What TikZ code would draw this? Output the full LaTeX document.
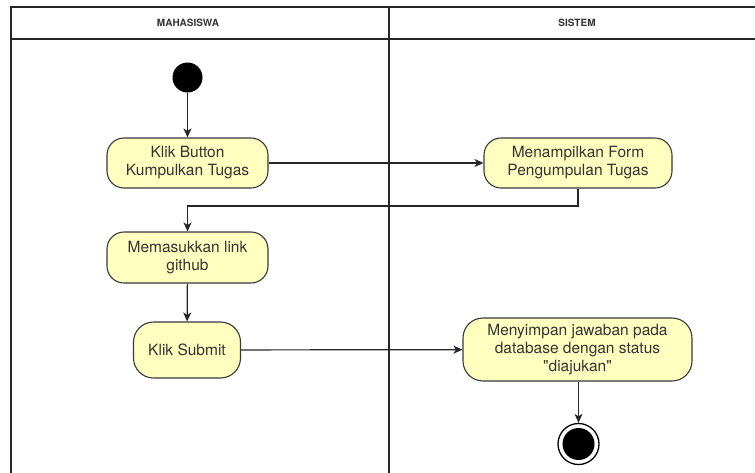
\documentclass[tikz,border=0pt]{standalone}
\usepackage{fontspec}
\setmainfont{TeX Gyre Heros}
\newfontfamily\actfont{TeX Gyre Heros}
\usetikzlibrary{arrows.meta}
\definecolor{actfill}{HTML}{FFFFC0}
\definecolor{actline}{HTML}{36393D}
\definecolor{txt}{HTML}{333333}
\tikzset{
  lane/.style={draw=black!85, line width=1.4pt},
  act/.style={draw=actline, fill=actfill, line width=1.1pt, rounded corners=17pt,
    align=center, font=\actfont\fontsize{15.5}{18}\selectfont, text=txt, inner sep=0pt},
  flow/.style={draw=black!85, line width=1.2pt, -{Stealth[length=9pt,width=8pt,inset=2.5pt]}},
  hdr/.style={font=\actfont\fontsize{10}{12}\selectfont\bfseries, text=txt},
}
\begin{document}
\begin{tikzpicture}[x=1pt,y=-1pt]
\useasboundingbox (0,0) rectangle (755,472);
% swimlanes
\draw[lane] (11,480) -- (11,7) -- (760,7);
\draw[lane] (11,39) -- (760,39);
\draw[lane] (389,7) -- (389,480);
\node[hdr] (h1) at (188,23) {MAHASISWA};
\node[hdr] (h2) at (577,23) {SISTEM};
% initial node
\node[circle, fill=black, minimum size=30pt, inner sep=0pt] (start) at (187.5,77.5) {};
% activities
\node[act, minimum width=161pt, minimum height=50pt] (a1) at (187.5,163) {Klik Button\\Kumpulkan Tugas};
\node[act, minimum width=188pt, minimum height=50pt] (a2) at (578,163) {Menampilkan Form\\Pengumpulan Tugas};
\node[act, minimum width=161pt, minimum height=51pt] (a3) at (187.5,257.5) {Memasukkan link\\github};
\node[act, minimum width=107pt, minimum height=56pt, rounded corners=20pt] (a4) at (187,350) {Klik Submit};
\node[act, minimum width=229pt, minimum height=63pt, rounded corners=20pt] (a5) at (577.5,349.5) {Menyimpan jawaban pada\\database dengan status\\\symbol{34}diajukan\symbol{34}};
% final node
\node[circle, draw=black, line width=1.3pt, fill=white, minimum size=41pt, inner sep=0pt] (end) at (578.5,444) {};
\node[circle, fill=black, minimum size=32pt, inner sep=0pt] (endin) at (end.center) {};
% flows
\draw[flow] (start) -- (a1);
\draw[flow] (a1) -- (a2);
\draw[flow] (a2.south) |- (187.5,206) -- (a3.north);
\draw[flow] (a3) -- (a4);
\draw[flow] (a4) -- (a5);
\draw[flow] (a5.south -| end) -- (end);
\end{tikzpicture}
\end{document}
